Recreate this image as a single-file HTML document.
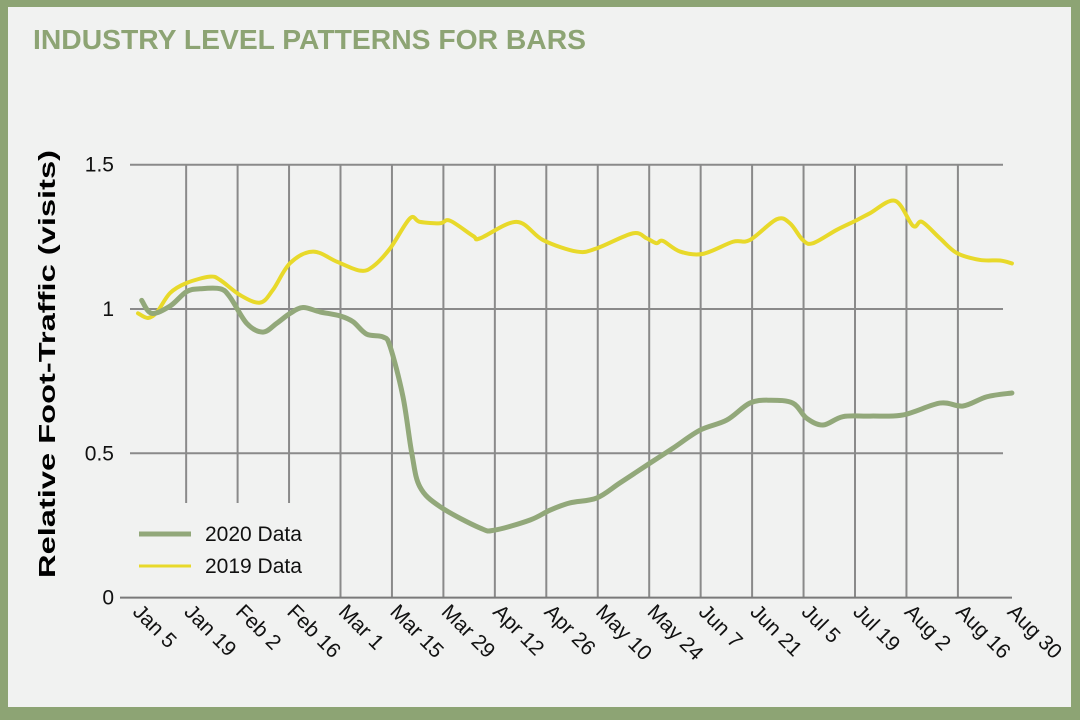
<!DOCTYPE html>
<html><head><meta charset="utf-8"><style>
html,body{margin:0;padding:0;}
body{width:1080px;height:720px;background:#8da474;position:relative;overflow:hidden;font-family:"Liberation Sans",sans-serif;}
#panel{position:absolute;left:8px;top:7px;width:1063px;height:700px;background:#f1f2f1;}
svg{position:absolute;left:0;top:0;}
</style></head><body>
<div id="panel"></div>
<svg id="chart" width="1080" height="720">
<text x="33" y="49" font-size="28" font-weight="bold" fill="#8da474" textLength="553" lengthAdjust="spacingAndGlyphs">INDUSTRY LEVEL PATTERNS FOR BARS</text>
<text transform="translate(55,364) rotate(-90)" text-anchor="middle" font-size="23" font-weight="bold" fill="#000" textLength="428" lengthAdjust="spacingAndGlyphs">Relative Foot-Traffic (visits)</text>
<g id="grid"></g><g id="axes"></g><g id="series"></g>
<g>
<line x1="139" y1="534" x2="191" y2="534" stroke="#92a87a" stroke-width="5"/>
<text x="205" y="541" font-size="21" fill="#111">2020 Data</text>
<line x1="139" y1="566" x2="191" y2="566" stroke="#e8d92a" stroke-width="3"/>
<text x="205" y="573" font-size="21" fill="#111">2019 Data</text>
</g>
</svg>
<script>
const xLabels=["Jan 5","Jan 19","Feb 2","Feb 16","Mar 1","Mar 15","Mar 29","Apr 12","Apr 26","May 10","May 24","Jun 7","Jun 21","Jul 5","Jul 19","Aug 2","Aug 16","Aug 30"];
const yTicks=[0,0.5,1,1.5];
const yTickLabels=["0","0.5","1","1.5"];
const days2020=[1.9,4.6,9.6,14.1,17.8,23.3,26.0,30.5,34.9,38.6,42.3,45.8,50.4,55.9,59.4,63.1,67.6,69.5,73.0,75.4,77.6,83.1,94.0,98.0,107.6,113.0,118.4,125.7,132.0,140.2,146.5,153.8,161.1,167.4,172.9,179.1,182.8,187.3,192.7,200.1,209.1,219.1,225.4,231.9,238.7];
const vals2020=[1.03,0.985,1.01,1.06,1.07,1.07,1.04,0.95,0.92,0.95,0.985,1.005,0.99,0.976,0.956,0.913,0.903,0.87,0.696,0.5,0.384,0.315,0.241,0.234,0.269,0.303,0.328,0.345,0.397,0.466,0.518,0.58,0.615,0.674,0.684,0.674,0.622,0.598,0.627,0.629,0.633,0.674,0.664,0.696,0.709];
const days2019=[0.9,3.6,6.1,9.6,14.1,20.5,23.3,28.7,34.1,37.6,42.3,48.5,55.0,61.3,64.8,69.5,74.9,77.6,83.1,85.8,92.1,94.0,103.9,111.1,120.3,125.7,135.5,139.3,142.0,143.7,148.4,154.6,162.8,167.4,174.7,178.3,181.8,184.6,191.0,196.5,200.1,206.9,211.8,214.2,219.1,223.7,230.0,235.5,238.7];
const vals2019=[0.985,0.969,0.99,1.055,1.09,1.112,1.10,1.048,1.022,1.066,1.159,1.199,1.164,1.133,1.147,1.21,1.314,1.302,1.297,1.306,1.253,1.245,1.302,1.239,1.199,1.21,1.262,1.245,1.228,1.236,1.199,1.191,1.233,1.239,1.311,1.297,1.239,1.228,1.274,1.308,1.332,1.375,1.288,1.302,1.245,1.194,1.17,1.168,1.158];

const NS="http://www.w3.org/2000/svg";
const X0=134.7, DX=51.45/14;
function xs(d){return X0+d*DX;}
function ys(v){return 597.6-v*288.6;}
function mk(tag,attrs,parent){const e=document.createElementNS(NS,tag);for(const k in attrs)e.setAttribute(k,attrs[k]);parent.appendChild(e);return e;}
const grid=document.getElementById('grid'),axes=document.getElementById('axes'),series=document.getElementById('series');
yTicks.forEach((t,i)=>{
  if(t>0){const l=mk('line',{x1:130,x2:1003,y1:ys(t),y2:ys(t),stroke:'#8a8a8a','stroke-width':2},grid);
  
  }
  const tx=mk('text',{x:114,y:ys(t)+7,'text-anchor':'end','font-size':21,fill:'#111'},axes);
  tx.textContent=yTickLabels[i];
  
  
});
xLabels.forEach((lab,i)=>{
  const x=xs(i*14);
  if(i>0&&i<xLabels.length-1){
    const l=mk('line',{x1:x,x2:x,y1:ys(1.5),y2:(i<=3?503:ys(0)),stroke:'#8a8a8a','stroke-width':2},grid);
    
    
  }
  const tx=mk('text',{transform:`translate(${x-3},${613}) rotate(45)`,'font-size':21,fill:'#111'},axes);
  tx.textContent=lab;
  
  
});
const ax=mk('line',{x1:120,x2:1012,y1:ys(0),y2:ys(0),stroke:'#7a7a7a','stroke-width':2},axes);


function path(ds,vs){
  const p=ds.map((d,i)=>[xs(d),ys(vs[i])]);
  let s=`M${p[0][0]},${p[0][1]}`;
  for(let i=0;i<p.length-1;i++){
    const a=p[Math.max(i-1,0)],b=p[i],c=p[i+1],d=p[Math.min(i+2,p.length-1)];
    s+=` C${b[0]+(c[0]-a[0])/6},${b[1]+(c[1]-a[1])/6} ${c[0]-(d[0]-b[0])/6},${c[1]-(d[1]-b[1])/6} ${c[0]},${c[1]}`;
  }
  return s;
}
const l19=mk('path',{d:path(days2019,vals2019),fill:'none',stroke:'#e8d92a','stroke-width':4,'stroke-linecap':'round','stroke-linejoin':'round'},series);


const l20=mk('path',{d:path(days2020,vals2020),fill:'none',stroke:'#92a87a','stroke-width':5,'stroke-linecap':'round','stroke-linejoin':'round'},series);


</script>
</body></html>
